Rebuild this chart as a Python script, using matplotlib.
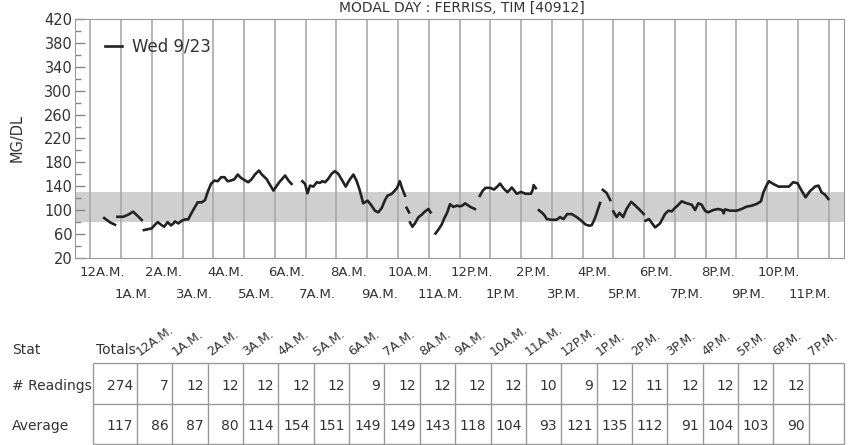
import numpy as np
import matplotlib
matplotlib.use("Agg")
import matplotlib.pyplot as plt

plt.rcParams['font.family'] = ['DejaVu Sans']

GAP = np.nan

# sensor trace for Wed 9/23: hour of day and mg/dl, GAP where the trace breaks
hours = [0.45, 0.64, 0.80, GAP,
         0.88, 1.07, 1.23, 1.39, 1.53, 1.67, GAP,
         1.74, 1.88, 1.99, 2.10, 2.19, 2.30, 2.40, 2.51, 2.62, 2.70, 2.75, 2.86,
         2.97, 3.08, 3.18, 3.27, 3.38, 3.49, 3.62, 3.73, 3.81, 3.92, 4.03, 4.14,
         4.25, 4.36, 4.46, 4.57, 4.68, 4.79, 4.90, 5.00, 5.13, 5.24, 5.35, 5.48,
         5.57, 5.73, 5.95, 6.14, 6.33, 6.44, 6.54, GAP,
         6.89, 6.98, 7.06, 7.14, 7.25, 7.36, 7.46, 7.54, 7.63, 7.73, 7.84, 7.95,
         8.06, 8.19, 8.30, 8.41, 8.55, 8.66, 8.76, 8.87, 9.01, 9.12, 9.25, 9.36,
         9.47, 9.58, 9.66, 9.79, 9.88, 9.97, 10.06, 10.14, 10.23, GAP,
         10.28, 10.36, GAP,
         10.39, 10.47, 10.55, 10.66, 10.77, 10.88, 10.99, 11.06, GAP,
         11.22, 11.32, 11.42, 11.52, 11.60, 11.69, 11.80, 11.91, 12.02, 12.10,
         12.18, 12.34, 12.50, GAP,
         12.66, 12.76, 12.85, 13.00, 13.12, 13.22, 13.32, 13.44, 13.56, 13.70,
         13.86, 14.00, 14.15, 14.32, 14.38, 14.41, 14.48, GAP,
         14.58, 14.68, 14.77, 14.84, 15.00, 15.16, 15.27, 15.38, 15.50, 15.65,
         15.81, 15.97, 16.10, 16.22, 16.30, 16.40, 16.49, 16.57, GAP,
         16.66, 16.78, 16.90, GAP,
         17.00, 17.11, 17.20, 17.32, 17.43, 17.58, 17.72, 17.88, 17.99, GAP,
         18.05, 18.16, 18.36, 18.52, 18.68, 18.79, 18.90, 19.00, 19.09, 19.22,
         19.39, 19.55, 19.66, 19.76, 19.87, 19.98, 20.08, 20.25, 20.41, 20.54,
         20.59, 20.63, 20.79, 21.01, 21.17, 21.33, 21.50, 21.66, 21.80, 21.88,
         21.98, 22.06, 22.20, 22.37, 22.58, 22.71, 22.85, 22.99, 23.12, 23.25,
         23.39, 23.56, 23.67, 23.77, 23.88, 23.99]

mgdl = [86.9, 79.6, 75.7, GAP,
        89, 89, 92.5, 97.5, 90.8, 83.5, GAP,
        66.7, 68.3, 69.5, 75.6, 80.1, 75.6, 72.3, 80.1, 74.5, 77.9, 81.3, 77.9,
        82.4, 84.6, 84.6, 93.6, 103.6, 113.2, 113.2, 117.1, 130, 144, 149.6, 148.5,
        155.2, 155.2, 148.5, 149.6, 151.8, 159.7, 154, 150.7, 146.8, 151.8, 159.7, 166.4,
        160, 152, 132.8, 146.8, 158, 149.6, 144, GAP,
        148.5, 144, 128.3, 141.2, 139.5, 146.8, 145.7, 148.5, 146.8, 152.4, 160.8, 165.3,
        160.8, 149.6, 139.5, 149.6, 159.7, 148.5, 132.8, 111.5, 116, 109.2, 99.2, 96.4,
        103.6, 117.1, 124.4, 127.2, 131.7, 137.3, 148.5, 135.6, 124.4, GAP,
        104, 96.4, GAP,
        79.6, 72.3, 77.9, 88, 92.4, 98, 102, 96.4, GAP,
        61, 68, 76, 88, 96, 110, 105.5, 107.6, 106.5, 108,
        111.5, 105.9, 102, GAP,
        124, 133, 137.5, 137.3, 134.5, 139, 144.5, 136, 130, 138,
        127.5, 130.5, 127.5, 127.5, 134, 142, 137, GAP,
        100, 96, 91, 85, 84, 84, 88.5, 85, 93.5, 93.5,
        88.5, 82, 76, 74, 75, 86, 100, 112, GAP,
        134, 129, 117, GAP,
        98, 88.5, 95.5, 88.5, 102, 114, 107.6, 99.5, 93.6, GAP,
        82.4, 85.2, 71.2, 77.9, 93.6, 99.2, 98, 103.6, 107.6, 114.8,
        111.5, 109.2, 100.3, 111.5, 109.2, 99.2, 96.4, 100.3, 102, 100.3,
        94.7, 101.4, 99.2, 99.2, 102, 105.9, 107.6, 110.4, 114.8, 130,
        141.2, 148.5, 144, 139.5, 139.5, 139.5, 146.8, 145.1, 132.8, 121.6,
        131.7, 139.5, 141.2, 130, 126.1, 118.8]

target_low, target_high = 80, 130

hour_labels = (['12A.M.'] + [f'{h}A.M.' for h in range(1, 12)] +
               ['12P.M.'] + [f'{h}P.M.' for h in range(1, 12)])

table_cols = hour_labels[:20]
readings = [7, 12, 12, 12, 12, 12, 9, 12, 12, 12, 12, 10, 9, 12, 11, 12, 12, 12, 12, None]
averages = [86, 87, 80, 114, 154, 151, 149, 149, 143, 118, 104, 93, 121, 135, 112, 91, 104, 103, 90, None]
total_readings = 274
total_average = 117

W, H = 851, 445
txt = '#333333'
grid = '#a8a8a8'

fig = plt.figure(figsize=(W / 100, H / 100), dpi=100)
ax = fig.add_axes([75 / W, 1 - 258 / H, 769 / W, 239 / H])

ax.axhspan(target_low, target_high, color='#cfcfcf', lw=0, zorder=0)
for h in range(25):
    ax.axvline(h, color=grid, lw=1.2, zorder=1)
ax.plot(hours, mgdl, color='#222222', lw=1.9, label='Wed 9/23', zorder=3)

ax.set_xlim(-0.5, 24.5)
ax.set_ylim(20, 420)
ax.set_xticks([])
ax.set_yticks(np.arange(20, 421, 40))
ax.set_yticks(np.arange(40, 401, 40), minor=True)
ax.tick_params(axis='y', which='major', direction='in', length=7, width=1,
               color='#888888', labelsize=10.5, labelcolor=txt, pad=2)
ax.tick_params(axis='y', which='minor', direction='in', length=4, width=1, color='#888888')
for sp in ax.spines.values():
    sp.set_color('#999999')

ax.set_ylabel('MG/DL', fontsize=10.5, color=txt)
ax.yaxis.set_label_coords(-0.065, 0.5)

ax.legend(loc='upper left', bbox_to_anchor=(0.02, 0.985), frameon=False,
          handlelength=1.0, handletextpad=0.6, fontsize=12, labelcolor=txt)

# hour labels in two staggered rows
for h, lab in enumerate(hour_labels):
    dy = -15 if h % 2 == 0 else -36
    ax.annotate(lab, xy=(h, 0), xycoords=('data', 'axes fraction'),
                xytext=(12, dy), textcoords='offset pixels',
                ha='center', va='center', fontsize=9.5, color=txt)

fig.text(462 / W, 0.999, 'MODAL DAY : FERRISS, TIM [40912]', ha='center', va='top',
         fontsize=10, color=txt)

# stats table, drawn in pixel coordinates
tab = fig.add_axes([0, 0, 1, 1])
tab.set_xlim(0, W)
tab.set_ylim(H, 0)
tab.axis('off')

tot_left, hr_left, right = 93, 137, 844
col_w = (right - hr_left) / len(table_cols)
head_y, top_y, mid_y, bot_y = 350, 363, 404, 444
row_y = [386, 426]

tab.text(12, head_y, 'Stat', ha='left', va='center', fontsize=10, color=txt)
tab.text(96, head_y, 'Totals', ha='left', va='center', fontsize=10, color=txt)
for i, lab in enumerate(table_cols):
    tab.text(hr_left + i * col_w + 3, 356, lab, rotation=36, rotation_mode='anchor',
             ha='left', va='baseline', fontsize=9, color=txt)

col_edges = [tot_left, hr_left] + [hr_left + (i + 1) * col_w for i in range(len(table_cols))]
tab.hlines([top_y, mid_y, bot_y], tot_left, right, color='#999999', lw=1)
tab.vlines(col_edges, top_y, bot_y, color='#999999', lw=1)

for y, name, total, vals in zip(row_y, ['# Readings', 'Average'],
                                [total_readings, total_average], [readings, averages]):
    tab.text(12, y, name, ha='left', va='center', fontsize=10, color=txt)
    tab.text(hr_left - 4, y, str(total), ha='right', va='center', fontsize=10, color=txt)
    for i, v in enumerate(vals):
        if v is None:
            continue
        tab.text(hr_left + (i + 1) * col_w - 4, y, str(v), ha='right', va='center',
                 fontsize=10, color=txt)

fig.savefig('out.png', dpi=100)
